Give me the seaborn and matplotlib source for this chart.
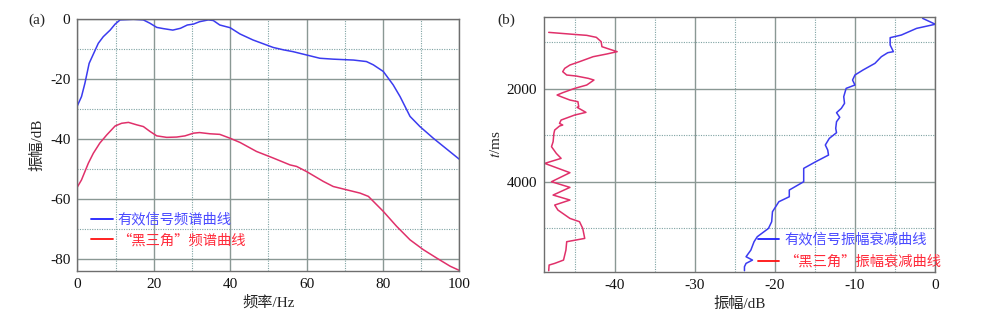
import numpy as np
import pandas as pd
import matplotlib
matplotlib.use("Agg")
import matplotlib.pyplot as plt
import seaborn as sns
from matplotlib.lines import Line2D
from matplotlib.ticker import MultipleLocator

# ---------------- data ----------------
# Panel (a): spectra
freq_blue = [0, 1.1, 2, 3.1, 5.5, 6.8, 8.6, 9.9, 11.2, 14.7, 17.3, 19, 20.8, 22.5, 25, 27, 28.8, 30.4,
             32, 34.3, 35.6, 37.3, 40, 42.6, 46, 49.6, 51.3, 54, 56.5, 60, 63.5, 67, 72.3, 75.7, 77.5,
             80.1, 82.7, 84.5, 87.1, 89.7, 93.2, 100]
amp_blue = [-28.9, -25.8, -21.3, -14.7, -8, -5.8, -3.6, -1.6, -0.2, 0, -0.2, -1.3, -2.7, -3.1, -3.6, -3,
            -1.9, -1.6, -0.8, -0.2, -0.4, -1.9, -2.8, -4.9, -6.9, -8.6, -9.4, -10.2, -10.8, -11.9, -13,
            -13.3, -13.6, -14.1, -15.2, -17.4, -21.9, -25.8, -32.4, -35.8, -39.7, -46.7]
freq_red = [0, 1.1, 2.9, 4.2, 5.9, 7.7, 9.9, 11.6, 13.4, 15.5, 17.3, 19, 20.8, 23.4, 26, 28.2, 30.4, 32,
            34.7, 37.3, 40, 42.6, 46.9, 51.3, 55.7, 57.4, 60, 64.4, 67, 70.5, 74, 76.2, 80.1, 83.6, 87.1,
            90.6, 94.1, 97.6, 100]
amp_red = [-56, -53.6, -48, -44.7, -41.3, -38.6, -35.6, -34.7, -34.4, -35.2, -35.8, -37.4, -38.9, -39.4,
           -39.3, -38.9, -38, -37.8, -38.2, -38.4, -39.7, -41.1, -44.1, -46.3, -48.6, -49.1, -50.8, -54.1,
           -55.8, -56.9, -58, -59.1, -64.1, -69.1, -73.6, -76.9, -79.7, -82.4, -83.8]

# Panel (b): amplitude decay vs time
t_blue = [487, 595, 616, 703, 846, 903, 1061, 1204, 1226, 1312, 1455, 1599, 1706, 1814, 1921, 1993, 2172,
          2315, 2423, 2516, 2616, 2710, 2853, 2946, 3068, 3211, 3319, 3427, 3570, 3713, 4000, 4179, 4323,
          4430, 4645, 4860, 5004, 5183, 5290, 5470, 5613, 5685, 5756, 5828, 5914]
db_blue = [-1.55, -0.2, 0, -2.3, -4.2, -5.6, -5.6, -5.2, -5.9, -6.7, -7.5, -9.0, -10.0, -10.3, -10.0, -11.1,
           -11.4, -11.3, -11.7, -12.3, -11.9, -12.3, -12.4, -12.3, -13.2, -13.7, -13.4, -13.3, -14.9, -16.4,
           -16.4, -18.2, -18.2, -19.5, -20.3, -20.4, -20.8, -22.2, -22.6, -23.0, -23.6, -22.8, -23.6, -23.8,
           -23.8]
t_red = [789, 831, 853, 896, 989, 1097, 1154, 1204, 1254, 1312, 1419, 1491, 1563, 1634, 1706, 1728, 1778,
         1814, 1921, 1993, 2086, 2136, 2172, 2244, 2280, 2387, 2401, 2509, 2566, 2674, 2746, 2781, 2803,
         2889, 2961, 3140, 3247, 3391, 3498, 3606, 3806, 4000, 4122, 4287, 4394, 4502, 4609, 4789, 4860,
         5004, 5219, 5290, 5470, 5685, 5756, 5792, 5914]
db_red = [-48.25, -45.2, -43.5, -42.3, -41.7, -41.6, -40.6, -39.7, -41.0, -42.7, -44.4, -45.6, -46.25, -46.5,
          -46.0, -44.8, -43.3, -42.6, -43.5, -45.0, -46.5, -47.2, -46.7, -45.6, -44.6, -44.5, -44.7, -43.6,
          -45.0, -46.7, -46.9, -46.5, -46.9, -47.5, -47.6, -47.7, -47.9, -47.3, -46.7, -48.75, -45.6, -47.9,
          -45.6, -47.7, -45.6, -47.5, -47.1, -45.6, -44.4, -44.0, -43.75, -46.0, -46.1, -46.4, -47.5, -48.2,
          -48.25]

labels_a = ["有效信号频谱曲线", "“黑三角”频谱曲线"]
labels_b = ["有效信号振幅衰减曲线", "“黑三角”振幅衰减曲线"]

# ---------------- style ----------------
sns.set_theme(style="white")
plt.rcParams['font.family'] = ['Liberation Serif', 'Noto Sans CJK SC', 'DejaVu Sans']
plt.rcParams['mathtext.fontset'] = 'stix'
plt.rcParams['axes.unicode_minus'] = False

BLUE = '#3b3bf0'
RED = '#e0306a'
BLUE_TXT = '#4a4aff'
RED_TXT = '#ff2a3a'
MAJ = '#8a9894'
MIN = '#7fa3a3'
SPINE = '#6e6e6e'
FS = 11

fig = plt.figure(figsize=(10, 3.24), dpi=100)
axa = fig.add_axes([0.0773, 0.1636, 0.382, 0.7768])
axb = fig.add_axes([0.5443, 0.1614, 0.3907, 0.7852])


def style_axes(ax):
    ax.grid(True, which='major', color=MAJ, lw=1.0, ls='-')
    ax.grid(True, which='minor', color=MIN, lw=0.8, ls=(0, (1, 1.2)))
    ax.set_axisbelow(True)
    for s in ax.spines.values():
        s.set_color(SPINE)
        s.set_linewidth(1.0)
    ax.tick_params(which='major', length=3, width=0.8, color=SPINE, labelsize=FS, pad=2,
                   direction='out', labelcolor='#111111')
    ax.tick_params(which='minor', length=0)


# ---- panel (a)
dfa_b = pd.DataFrame({'f': freq_blue, 'a': amp_blue})
dfa_r = pd.DataFrame({'f': freq_red, 'a': amp_red})
sns.lineplot(data=dfa_b, x='f', y='a', ax=axa, color=BLUE, lw=1.1)
sns.lineplot(data=dfa_r, x='f', y='a', ax=axa, color=RED, lw=1.1)
axa.set_xlim(0, 100)
axa.set_ylim(-84, 0)
axa.xaxis.set_major_locator(MultipleLocator(20))
axa.xaxis.set_minor_locator(MultipleLocator(10))
axa.yaxis.set_major_locator(MultipleLocator(20))
axa.yaxis.set_minor_locator(MultipleLocator(10))
style_axes(axa)
axa.set_xlabel("频率/Hz", fontsize=FS, labelpad=3.5)
axa.set_ylabel("振幅/dB", fontsize=FS, labelpad=4)
h_a = [Line2D([0], [0], color='#2020ff', lw=1.3), Line2D([0], [0], color='#ff1010', lw=1.3)]
leg_a = axa.legend(h_a, labels_a, loc='center left', bbox_to_anchor=(0.036, 0.163), frameon=False,
                   handlelength=1.5, handletextpad=0.35, borderpad=0, borderaxespad=0,
                   labelspacing=0.45, prop={'family': ['Noto Sans CJK SC'], 'size': 10.3})
for txt, c in zip(leg_a.get_texts(), [BLUE_TXT, RED_TXT]):
    txt.set_color(c)
fig.text(0.028, 0.938, "(a)", fontsize=FS, ha='left', va='center')

# ---- panel (b)
dfb_b = pd.DataFrame({'t': t_blue, 'db': db_blue})
dfb_r = pd.DataFrame({'t': t_red, 'db': db_red})
sns.lineplot(data=dfb_b, x='db', y='t', ax=axb, color=BLUE, lw=1.1, sort=False, orient='y')
sns.lineplot(data=dfb_r, x='db', y='t', ax=axb, color=RED, lw=1.1, sort=False, orient='y')
axb.set_xlim(-48.8, 0)
axb.set_ylim(5935, 465)
axb.xaxis.set_major_locator(MultipleLocator(10))
axb.xaxis.set_minor_locator(MultipleLocator(5))
axb.yaxis.set_major_locator(MultipleLocator(2000))
axb.yaxis.set_minor_locator(MultipleLocator(1000))
style_axes(axb)
axb.set_xlabel("振幅/dB", fontsize=FS, labelpad=3.5)
axb.set_ylabel("$t$/ms", fontsize=FS, labelpad=3)
h_b = [Line2D([0], [0], color='#2020ff', lw=1.3), Line2D([0], [0], color='#ff1010', lw=1.3)]
leg_b = axb.legend(h_b, labels_b, loc='center left', bbox_to_anchor=(0.547, 0.083), frameon=False,
                   handlelength=1.5, handletextpad=0.35, borderpad=0, borderaxespad=0,
                   labelspacing=0.55, prop={'family': ['Noto Sans CJK SC'], 'size': 10.3})
for txt, c in zip(leg_b.get_texts(), [BLUE_TXT, RED_TXT]):
    txt.set_color(c)
fig.text(0.497, 0.938, "(b)", fontsize=FS, ha='left', va='center')

fig.savefig("out.png", dpi=100, facecolor='white')
